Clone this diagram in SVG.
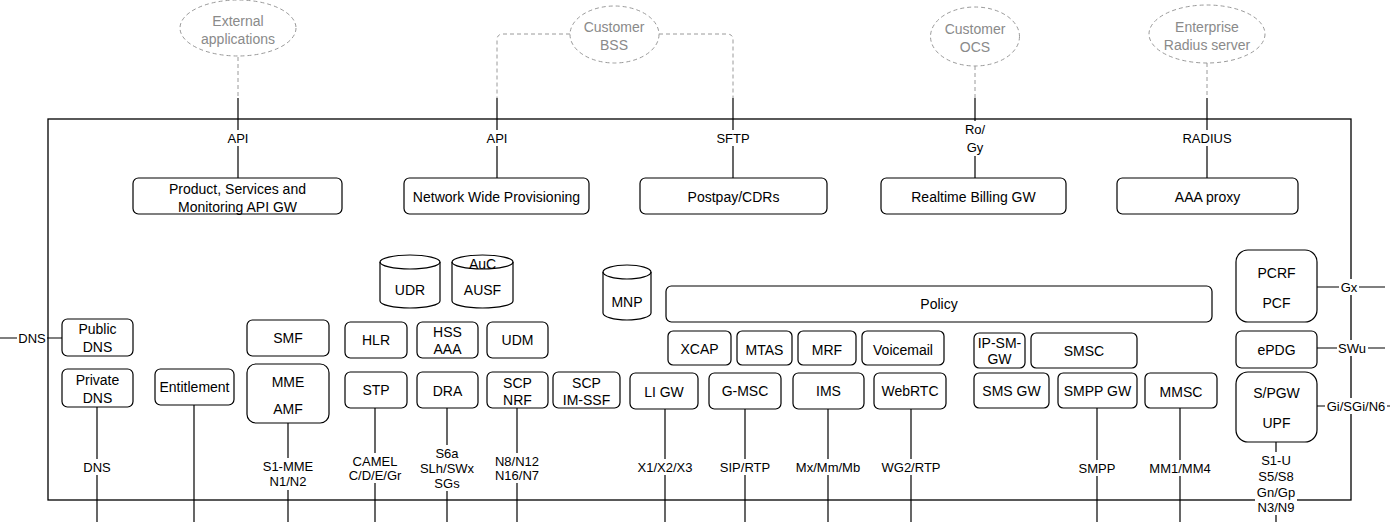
<svg xmlns="http://www.w3.org/2000/svg" width="1392" height="528" viewBox="0 0 1392 528">
<style>
.box{fill:#fff;stroke:#000;stroke-width:1.2}
.t{font-family:"Liberation Sans",Arial,Helvetica,sans-serif;font-size:14px;text-anchor:middle;dominant-baseline:central;fill:#000}
.l{font-size:13px}
.g{fill:#8a8a8a}
.ell{fill:#fff;stroke:#9a9a9a;stroke-width:1;stroke-dasharray:4 3}
.dash{stroke:#9a9a9a;stroke-width:1;stroke-dasharray:4 3;fill:none}
.ln{stroke:#000;stroke-width:1.2;fill:none}
.bg{fill:#fff}
</style>
<rect width="1392" height="528" fill="#fff"/>
<rect id="frame" x="48" y="119" width="1303" height="381" fill="none" stroke="#000" stroke-width="1.3"/>

<g id="connectors">
  <line class="dash" x1="238" y1="57" x2="238" y2="98"/>
  <line class="ln" x1="238" y1="98" x2="238" y2="178"/>
  <path class="dash" d="M570,34 H503 Q497,34 497,40 V98"/>
  <line class="ln" x1="497" y1="98" x2="497" y2="178"/>
  <path class="dash" d="M659,34 H727 Q733,34 733,40 V98"/>
  <line class="ln" x1="733" y1="98" x2="733" y2="178"/>
  <line class="dash" x1="975" y1="66" x2="975" y2="98"/>
  <line class="ln" x1="975" y1="98" x2="975" y2="178"/>
  <line class="dash" x1="1207" y1="63" x2="1207" y2="98"/>
  <line class="ln" x1="1207" y1="98" x2="1207" y2="178"/>

  <line class="ln" x1="0" y1="338" x2="62" y2="338"/>
  <line class="ln" x1="97" y1="407" x2="97" y2="522"/>
  <line class="ln" x1="194" y1="405" x2="194" y2="522"/>
  <line class="ln" x1="288" y1="423" x2="288" y2="522"/>
  <line class="ln" x1="375" y1="408" x2="375" y2="522"/>
  <line class="ln" x1="447" y1="408" x2="447" y2="522"/>
  <line class="ln" x1="517" y1="408" x2="517" y2="522"/>
  <line class="ln" x1="665" y1="409" x2="665" y2="522"/>
  <line class="ln" x1="745" y1="409" x2="745" y2="522"/>
  <line class="ln" x1="828" y1="409" x2="828" y2="522"/>
  <line class="ln" x1="911" y1="409" x2="911" y2="522"/>
  <line class="ln" x1="1097" y1="408" x2="1097" y2="522"/>
  <line class="ln" x1="1180" y1="408" x2="1180" y2="522"/>
  <line class="ln" x1="1276" y1="442" x2="1276" y2="522"/>
  <line class="ln" x1="1317" y1="287" x2="1385" y2="287"/>
  <line class="ln" x1="1317" y1="348" x2="1385" y2="348"/>
  <line class="ln" x1="1317" y1="406" x2="1390" y2="406"/>

  <g id="labels">
    <rect class="bg" x="225" y="130" width="26" height="16"/><text class="t l" x="238" y="138">API</text>
    <rect class="bg" x="484" y="130" width="26" height="16"/><text class="t l" x="497" y="138">API</text>
    <rect class="bg" x="716" y="130" width="34" height="16"/><text class="t l" x="733" y="138">SFTP</text>
    <rect class="bg" x="962" y="121" width="26" height="35"/><text class="t l" x="975" y="129">Ro/</text><text class="t l" x="975" y="147">Gy</text>
    <rect class="bg" x="1180" y="130" width="54" height="16"/><text class="t l" x="1207" y="138">RADIUS</text>

    <rect class="bg" x="17" y="330" width="30" height="16"/><text class="t l" x="32" y="338">DNS</text>
    <rect class="bg" x="82" y="459" width="30" height="16"/><text class="t l" x="97" y="467">DNS</text>
    <rect class="bg" x="261" y="458" width="54" height="32"/><text class="t l" x="288" y="466">S1-MME</text><text class="t l" x="288" y="481">N1/N2</text>
    <rect class="bg" x="346" y="453" width="58" height="30"/><text class="t l" x="375" y="461">CAMEL</text><text class="t l" x="375" y="475">C/D/E/Gr</text>
    <rect class="bg" x="418" y="445" width="58" height="46"/><text class="t l" x="447" y="453">S6a</text><text class="t l" x="447" y="468">SLh/SWx</text><text class="t l" x="447" y="483">SGs</text>
    <rect class="bg" x="492" y="453" width="50" height="30"/><text class="t l" x="517" y="461">N8/N12</text><text class="t l" x="517" y="475">N16/N7</text>
    <rect class="bg" x="636" y="459" width="58" height="16"/><text class="t l" x="665" y="467">X1/X2/X3</text>
    <rect class="bg" x="717" y="459" width="56" height="16"/><text class="t l" x="745" y="467">SIP/RTP</text>
    <rect class="bg" x="794" y="459" width="68" height="16"/><text class="t l" x="828" y="467">Mx/Mm/Mb</text>
    <rect class="bg" x="879" y="459" width="64" height="16"/><text class="t l" x="911" y="467">WG2/RTP</text>
    <rect class="bg" x="1078" y="460" width="38" height="16"/><text class="t l" x="1097" y="468">SMPP</text>
    <rect class="bg" x="1148" y="460" width="64" height="16"/><text class="t l" x="1180" y="468">MM1/MM4</text>
    <rect class="bg" x="1255" y="452" width="42" height="63"/>
    <text class="t l" x="1276" y="460">S1-U</text><text class="t l" x="1276" y="476">S5/S8</text><text class="t l" x="1276" y="492">Gn/Gp</text><text class="t l" x="1276" y="507">N3/N9</text>
    <rect class="bg" x="1339" y="279" width="20" height="16"/><text class="t l" x="1349" y="287">Gx</text>
    <rect class="bg" x="1337" y="340" width="31" height="16"/><text class="t l" x="1352" y="348">SWu</text>
    <rect class="bg" x="1325" y="398" width="62" height="16"/><text class="t l" x="1356" y="406">Gi/SGi/N6</text>
  </g>
</g>

<g id="ext-apps"><ellipse class="ell" cx="238" cy="28" rx="58" ry="28"/><text class="t g" x="238" y="21">External</text><text class="t g" x="238" y="39">applications</text></g>
<g id="customer-bss"><ellipse class="ell" cx="614.5" cy="34.5" rx="44.5" ry="28.5"/><text class="t g" x="614" y="27">Customer</text><text class="t g" x="614" y="45">BSS</text></g>
<g id="customer-ocs"><ellipse class="ell" cx="975" cy="36.5" rx="44.5" ry="29.5"/><text class="t g" x="975" y="29">Customer</text><text class="t g" x="975" y="47">OCS</text></g>
<g id="radius-server"><ellipse class="ell" cx="1207" cy="34" rx="58" ry="29"/><text class="t g" x="1207" y="27">Enterprise</text><text class="t g" x="1207" y="45">Radius server</text></g>

<g id="api-gw"><rect class="box" x="133" y="178" width="209" height="36" rx="5.4"/><text class="t" x="237.5" y="189">Product, Services and</text><text class="t" x="237.5" y="207">Monitoring API GW</text></g>
<g id="provisioning"><rect class="box" x="404" y="178" width="185" height="36" rx="5.4"/><text class="t" x="496.5" y="197">Network Wide Provisioning</text></g>
<g id="postpay"><rect class="box" x="640" y="178" width="187" height="36" rx="5.4"/><text class="t" x="733.5" y="197">Postpay/CDRs</text></g>
<g id="billing-gw"><rect class="box" x="881" y="178" width="185" height="36" rx="5.4"/><text class="t" x="973.5" y="197">Realtime Billing GW</text></g>
<g id="aaa-proxy"><rect class="box" x="1117" y="178" width="181" height="36" rx="5.4"/><text class="t" x="1207.5" y="197">AAA proxy</text></g>

<g id="public-dns"><rect class="box" x="62" y="319" width="71" height="37" rx="5.4"/><text class="t" x="97.5" y="329">Public</text><text class="t" x="97.5" y="347">DNS</text></g>
<g id="private-dns"><rect class="box" x="62" y="369" width="71" height="38" rx="5.4"/><text class="t" x="97.5" y="380">Private</text><text class="t" x="97.5" y="398">DNS</text></g>
<g id="entitlement"><rect class="box" x="155" y="369" width="79" height="36" rx="5.4"/><text class="t" x="194.5" y="387">Entitlement</text></g>
<g id="smf"><rect class="box" x="247" y="320" width="82" height="36" rx="5.4"/><text class="t" x="288" y="338">SMF</text></g>
<g id="mme-amf"><rect class="box" x="247" y="364" width="82" height="59" rx="8.8"/><text class="t" x="288" y="382">MME</text><text class="t" x="288" y="409">AMF</text></g>

<g id="udr"><path class="box" d="M380,262 A30,7 0 0 1 440,262 V301 A30,7 0 0 1 380,301 Z"/><path class="ln" d="M380,262 A30,7 0 0 0 440,262" stroke-width="1.2"/><text class="t" x="410" y="290">UDR</text></g>
<g id="auc-ausf"><path class="box" d="M452,262 A30.5,7 0 0 1 513,262 V301 A30.5,7 0 0 1 452,301 Z"/><path class="ln" d="M452,262 A30.5,7 0 0 0 513,262"/><text class="t" x="482.5" y="264">AuC</text><text class="t" x="482.5" y="290">AUSF</text></g>
<g id="mnp"><path class="box" d="M603,272 A24,7 0 0 1 651,272 V313 A24,7 0 0 1 603,313 Z"/><path class="ln" d="M603,272 A24,7 0 0 0 651,272"/><text class="t" x="627" y="302">MNP</text></g>

<g id="hlr"><rect class="box" x="345" y="322" width="62" height="36" rx="5.4"/><text class="t" x="376" y="340">HLR</text></g>
<g id="hss-aaa"><rect class="box" x="417" y="322" width="61" height="36" rx="5.4"/><text class="t" x="447.5" y="332">HSS</text><text class="t" x="447.5" y="349">AAA</text></g>
<g id="udm"><rect class="box" x="487" y="322" width="61" height="36" rx="5.4"/><text class="t" x="517.5" y="340">UDM</text></g>
<g id="stp"><rect class="box" x="345" y="372" width="62" height="36" rx="5.4"/><text class="t" x="376" y="390">STP</text></g>
<g id="dra"><rect class="box" x="417" y="372" width="61" height="36" rx="5.4"/><text class="t" x="447.5" y="391">DRA</text></g>
<g id="scp-nrf"><rect class="box" x="487" y="372" width="61" height="36" rx="5.4"/><text class="t" x="517.5" y="383">SCP</text><text class="t" x="517.5" y="400">NRF</text></g>
<g id="scp-imssf"><rect class="box" x="553" y="372" width="67" height="36" rx="5.4"/><text class="t" x="586.5" y="383">SCP</text><text class="t" x="586.5" y="400">IM-SSF</text></g>

<g id="policy"><rect class="box" x="666" y="286" width="546" height="36" rx="5.4"/><text class="t" x="939" y="304">Policy</text></g>
<g id="xcap"><rect class="box" x="668" y="331" width="63" height="34" rx="5.1"/><text class="t" x="699.5" y="349">XCAP</text></g>
<g id="mtas"><rect class="box" x="737" y="331" width="55" height="34" rx="5.1"/><text class="t" x="764.5" y="350">MTAS</text></g>
<g id="mrf"><rect class="box" x="798" y="331" width="58" height="34" rx="5.1"/><text class="t" x="827" y="350">MRF</text></g>
<g id="voicemail"><rect class="box" x="862" y="331" width="82" height="34" rx="5.1"/><text class="t" x="903" y="350">Voicemail</text></g>
<g id="li-gw"><rect class="box" x="630" y="373" width="68" height="36" rx="5.4"/><text class="t" x="664" y="392">LI GW</text></g>
<g id="g-msc"><rect class="box" x="709" y="373" width="72" height="36" rx="5.4"/><text class="t" x="745" y="391">G-MSC</text></g>
<g id="ims"><rect class="box" x="793" y="373" width="71" height="36" rx="5.4"/><text class="t" x="828.5" y="391">IMS</text></g>
<g id="webrtc"><rect class="box" x="874" y="373" width="72" height="36" rx="5.4"/><text class="t" x="910" y="391">WebRTC</text></g>

<g id="ip-sm-gw"><rect class="box" x="974" y="333" width="51" height="35" rx="5.2"/><text class="t" x="999.5" y="343">IP-SM-</text><text class="t" x="999.5" y="359">GW</text></g>
<g id="smsc"><rect class="box" x="1031" y="333" width="106" height="35" rx="5.2"/><text class="t" x="1084" y="351">SMSC</text></g>
<g id="sms-gw"><rect class="box" x="974" y="373" width="75" height="35" rx="5.2"/><text class="t" x="1011.5" y="391">SMS GW</text></g>
<g id="smpp-gw"><rect class="box" x="1058" y="373" width="79" height="35" rx="5.2"/><text class="t" x="1097.5" y="391">SMPP GW</text></g>
<g id="mmsc"><rect class="box" x="1145" y="373" width="72" height="35" rx="5.2"/><text class="t" x="1181" y="392">MMSC</text></g>

<g id="pcrf-pcf"><rect class="box" x="1236" y="250" width="81" height="72" rx="12"/><text class="t" x="1276.5" y="273">PCRF</text><text class="t" x="1276.5" y="303">PCF</text></g>
<g id="epdg"><rect class="box" x="1236" y="331" width="81" height="37" rx="5.5"/><text class="t" x="1276.5" y="350">ePDG</text></g>
<g id="spgw-upf"><rect class="box" x="1236" y="372" width="81" height="70" rx="12"/><text class="t" x="1276.5" y="393">S/PGW</text><text class="t" x="1276.5" y="423">UPF</text></g>
</svg>
